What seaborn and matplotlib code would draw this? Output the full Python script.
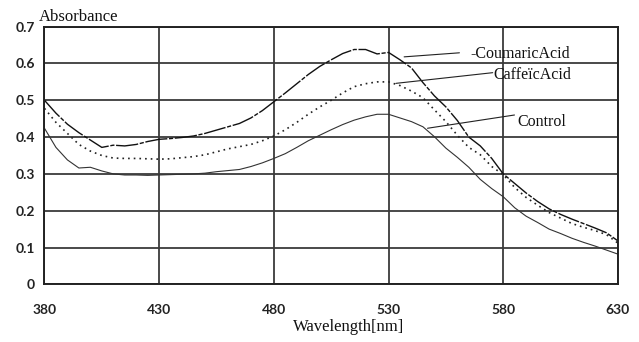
import matplotlib
matplotlib.use('Agg')
import matplotlib.pyplot as plt
import pandas as pd
import seaborn as sns

sns.set_style("white")

# wavelength grid [nm]
wavelength = [380, 385, 390, 395, 400, 405, 410, 415, 420, 425,
              430, 435, 440, 445, 450, 455, 460, 465, 470, 475,
              480, 485, 490, 495, 500, 505, 510, 515, 520, 525,
              530, 535, 540, 545, 550, 555, 560, 565, 570, 575,
              580, 585, 590, 595, 600, 605, 610, 615, 620, 625, 630]

coumaric = [0.500, 0.465, 0.435, 0.412, 0.392, 0.372, 0.378, 0.376, 0.380, 0.388,
            0.394, 0.396, 0.399, 0.403, 0.410, 0.419, 0.428, 0.437, 0.452, 0.472,
            0.496, 0.520, 0.545, 0.570, 0.592, 0.610, 0.627, 0.638, 0.638, 0.626,
            0.630, 0.610, 0.588, 0.548, 0.512, 0.482, 0.445, 0.400, 0.376, 0.342,
            0.300, 0.274, 0.248, 0.225, 0.205, 0.190, 0.177, 0.165, 0.153, 0.140, 0.118]

caffeic = [0.478, 0.440, 0.410, 0.380, 0.362, 0.350, 0.343, 0.342, 0.342, 0.341,
           0.340, 0.341, 0.344, 0.347, 0.352, 0.360, 0.368, 0.374, 0.380, 0.390,
           0.403, 0.420, 0.440, 0.462, 0.482, 0.500, 0.520, 0.537, 0.545, 0.550,
           0.550, 0.540, 0.525, 0.507, 0.474, 0.442, 0.405, 0.372, 0.352, 0.320,
           0.298, 0.263, 0.236, 0.215, 0.195, 0.180, 0.165, 0.155, 0.146, 0.135, 0.112]

control = [0.424, 0.372, 0.338, 0.316, 0.318, 0.308, 0.300, 0.297, 0.297, 0.296,
           0.297, 0.298, 0.299, 0.300, 0.302, 0.306, 0.309, 0.312, 0.320, 0.330,
           0.342, 0.355, 0.372, 0.390, 0.405, 0.420, 0.434, 0.446, 0.455, 0.462,
           0.462, 0.452, 0.442, 0.428, 0.401, 0.370, 0.345, 0.318, 0.285, 0.260,
           0.238, 0.208, 0.185, 0.168, 0.150, 0.138, 0.125, 0.114, 0.104, 0.093, 0.082]

series_names = ['-CoumaricAcid', 'CaffeïcAcid', 'Control']

df = pd.DataFrame({
    'Wavelength': wavelength * 3,
    'Absorbance': coumaric + caffeic + control,
    'Sample': [series_names[0]] * len(wavelength)
              + [series_names[1]] * len(wavelength)
              + [series_names[2]] * len(wavelength),
})

fig = plt.figure(figsize=(6.39, 3.42), dpi=100)
ax = fig.add_axes([0.0696, 0.1687, 0.8974, 0.7533])

sns.lineplot(data=df, x='Wavelength', y='Absorbance', hue='Sample', style='Sample',
             palette=['#111111', '#222222', '#333333'],
             dashes=[(16, 1.2, 3, 1.2), (1.0, 2.4), ''],
             size='Sample', sizes=[1.0, 1.2, 0.8],
             legend=False, ax=ax)

ax.set_xlim(380, 630)
ax.set_ylim(0, 0.7)
ax.set_xticks([380, 430, 480, 530, 580, 630])
ax.set_yticks([0, 0.1, 0.2, 0.3, 0.4, 0.5, 0.6, 0.7])
ax.set_yticklabels(['0', '0.1', '0.2', '0.3', '0.4', '0.5', '0.6', '0.7'])
ax.grid(True, color='#3a3a3a', linewidth=1.3)
for s in ax.spines.values():
    s.set_color('#222222')
    s.set_linewidth(1.4)
ax.tick_params(axis='both', direction='out', length=4, width=1.2, color='#222222',
               labelsize=10, pad=3)
for lab in ax.get_xticklabels() + ax.get_yticklabels():
    lab.set_family('Lato')
    lab.set_fontweight('bold')
    lab.set_color('#222222')
ax.tick_params(axis='x', pad=10)

ax.set_xlabel('')
ax.set_ylabel('')
fig.text(0.546, 0.045, 'Wavelength[nm]', ha='center', va='center',
         family='Liberation Serif', fontsize=12, color='#111111')
fig.text(0.061, 0.950, 'Absorbance', ha='left', va='center',
         family='Liberation Serif', fontsize=12, color='#111111')

# labels with leader lines
label_pos = [(565.8, 0.626), (575.8, 0.569), (586.1, 0.442)]
leader_start = [(536.8, 0.618), (533.2, 0.546), (547.0, 0.424)]
leader_end = [(560.9, 0.629), (575.4, 0.575), (584.9, 0.460)]
for name, p, a, b in zip(series_names, label_pos, leader_start, leader_end):
    ax.plot([a[0], b[0]], [a[1], b[1]], color='#222222', linewidth=0.8)
    ax.text(p[0], p[1], name, ha='left', va='center', family='Liberation Serif',
            fontsize=11.5, color='#111111', clip_on=False)

fig.savefig('out.png', dpi=100)
plt.close(fig)
